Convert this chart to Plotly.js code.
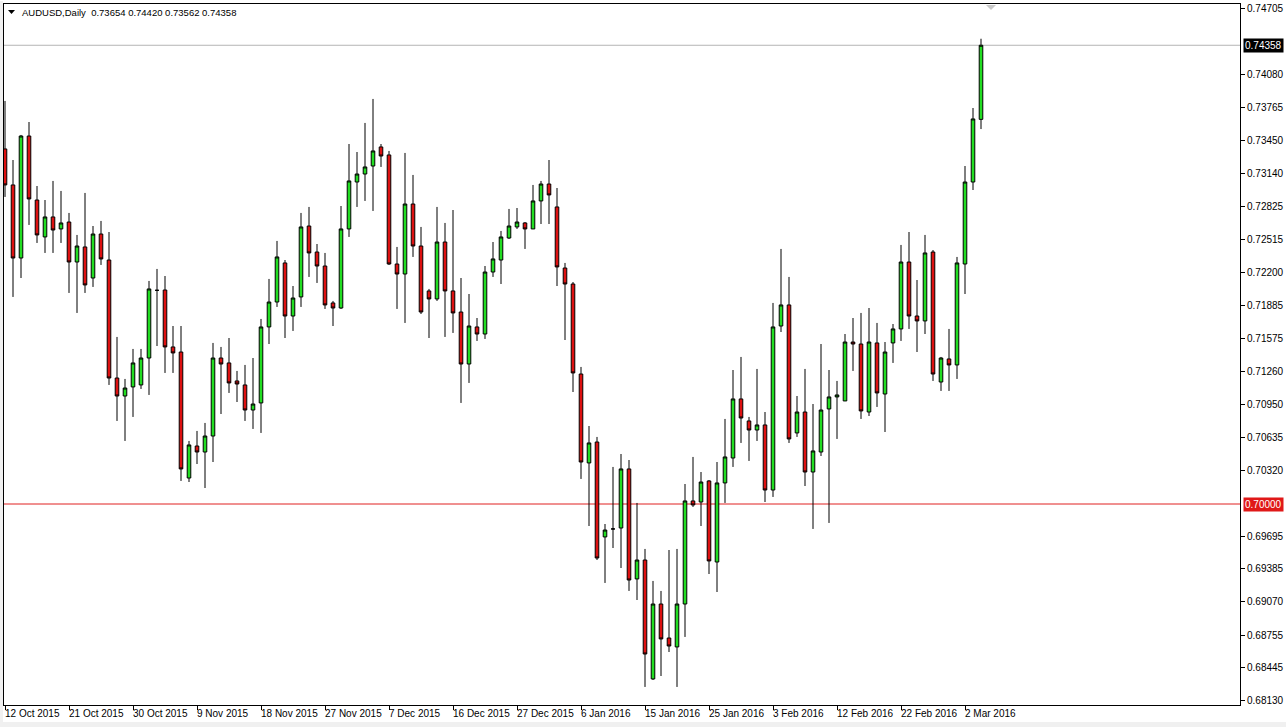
<!DOCTYPE html>
<html>
<head>
<meta charset="utf-8">
<script src="https://cdn.plot.ly/plotly-3.0.1.min.js"></script>
<style>
html,body{margin:0;padding:0;background:#ffffff;}
#chart{width:1286px;height:727px;}
</style>
</head>
<body>
<div id="chart"></div>
<script>
// AUDUSD Daily, bars from 12 Oct 2015 (index 0) to 4 Mar 2016 (index 122)
var opens = [0.73373,0.73031,0.72337,0.73496,0.72888,0.72537,0.72727,0.72613,0.72679,0.72299,
0.72442,0.72147,0.72565,0.72318,0.71197,0.71026,0.71112,0.71131,0.71387,0.72030,
0.72033,0.71492,0.71444,0.70247,0.70551,0.70494,0.70646,0.71387,0.71340,0.71169,
0.71131,0.70893,0.70960,0.71682,0.71919,0.72290,0.71786,0.71967,0.72641,0.72394,
0.72261,0.71910,0.71862,0.72613,0.73059,0.73135,0.73211,0.73392,0.73316,0.72280,
0.72185,0.72850,0.72451,0.72024,0.71948,0.72489,0.72024,0.71824,0.71330,0.71682,
0.71615,0.72204,0.72318,0.72527,0.72632,0.72670,0.72613,0.72879,0.73040,0.72822,
0.72242,0.72090,0.71235,0.70390,0.70589,0.69687,0.69763,0.69772,0.70333,0.69288,
0.69468,0.68338,0.69050,0.68727,0.68642,0.69050,0.70029,0.70019,0.70219,0.69449,
0.70200,0.70437,0.70998,0.70789,0.70703,0.70751,0.70133,0.71691,0.71891,0.70675,
0.70874,0.70304,0.70494,0.70903,0.71017,0.70979,0.71539,0.71520,0.70874,0.71530,
0.71045,0.71530,0.71663,0.72299,0.71786,0.71739,0.72394,0.71159,0.71378,0.71321,
0.72280,0.73059,0.73654];
var highs = [0.73829,0.73268,0.73506,0.73629,0.73021,0.72888,0.73069,0.72974,0.72765,0.72556,
0.72955,0.72641,0.72689,0.72584,0.71587,0.71188,0.71473,0.71473,0.72119,0.72233,
0.72166,0.71691,0.71691,0.70599,0.70694,0.70770,0.71530,0.71492,0.71577,0.71264,
0.71321,0.71387,0.71758,0.72138,0.72499,0.72318,0.72071,0.72765,0.72822,0.72470,
0.72385,0.71929,0.72831,0.73420,0.73344,0.73620,0.73848,0.73420,0.73354,0.72442,
0.73335,0.73126,0.72632,0.72043,0.72822,0.72670,0.72793,0.72147,0.71995,0.71767,
0.72261,0.72489,0.72594,0.72803,0.72812,0.72679,0.73031,0.73069,0.73268,0.73002,
0.72290,0.72109,0.71302,0.70741,0.70637,0.69810,0.70352,0.70475,0.70418,0.70010,
0.69573,0.69269,0.69174,0.69563,0.69573,0.70190,0.70447,0.70304,0.70228,0.70399,
0.70808,0.71273,0.71397,0.70827,0.71283,0.70874,0.71910,0.72423,0.72157,0.71026,
0.71283,0.70950,0.71520,0.71273,0.71169,0.71615,0.71767,0.71815,0.71862,0.71720,
0.71539,0.71710,0.72461,0.72584,0.72128,0.72556,0.72413,0.71397,0.71663,0.72347,
0.73211,0.73762,0.74420];
var lows = [0.72917,0.71967,0.72147,0.72651,0.72480,0.72385,0.72385,0.72480,0.72005,0.71815,
0.72005,0.72062,0.72271,0.71131,0.70789,0.70599,0.70827,0.71093,0.71036,0.71501,
0.71245,0.71245,0.70219,0.70209,0.70380,0.70152,0.70399,0.70855,0.71055,0.70969,
0.70789,0.70713,0.70675,0.71520,0.71872,0.71577,0.71644,0.71872,0.72157,0.72100,
0.71853,0.71691,0.71853,0.72537,0.72822,0.72879,0.72784,0.73202,0.72271,0.71853,
0.71720,0.72347,0.71805,0.71577,0.71929,0.71587,0.71625,0.70960,0.71150,0.71549,
0.71568,0.72157,0.72090,0.72518,0.72613,0.72423,0.72613,0.72660,0.72660,0.72071,
0.71558,0.71064,0.70238,0.69791,0.69468,0.69250,0.69582,0.69392,0.69174,0.69088,
0.68262,0.68328,0.68366,0.68594,0.68262,0.68737,0.69972,0.69791,0.69335,0.69164,
0.70010,0.70352,0.70580,0.70409,0.70599,0.70019,0.70067,0.71634,0.70580,0.70637,
0.70171,0.69763,0.70456,0.69820,0.70618,0.70979,0.71264,0.70808,0.70836,0.70922,
0.70684,0.71340,0.71549,0.71663,0.71444,0.71615,0.71169,0.71074,0.71074,0.71188,
0.71995,0.72983,0.73562];
var closes = [0.73031,0.72337,0.73496,0.72898,0.72556,0.72727,0.72603,0.72670,0.72299,0.72451,
0.72081,0.72565,0.72328,0.71197,0.71026,0.71102,0.71340,0.71387,0.72043,0.72030,
0.71492,0.71435,0.70333,0.70561,0.70494,0.70646,0.71387,0.71330,0.71150,0.71140,
0.70893,0.70950,0.71682,0.71919,0.72347,0.71786,0.71957,0.72632,0.72385,0.72261,
0.71891,0.71862,0.72613,0.73069,0.73135,0.73202,0.73354,0.73306,0.72280,0.72185,
0.72850,0.72451,0.71824,0.71948,0.72489,0.72024,0.71815,0.71330,0.71691,0.71615,
0.72204,0.72328,0.72537,0.72641,0.72679,0.72613,0.72879,0.73040,0.72936,0.72252,
0.72090,0.71245,0.70399,0.70580,0.69487,0.69753,0.69763,0.70333,0.69278,0.69468,
0.68575,0.69050,0.68718,0.68651,0.69050,0.70029,0.69991,0.70209,0.69459,0.70200,
0.70447,0.70998,0.70817,0.70703,0.70751,0.70133,0.71682,0.71891,0.70618,0.70874,
0.70304,0.70504,0.70893,0.71017,0.71036,0.71539,0.71520,0.70884,0.71539,0.71055,
0.71444,0.71663,0.72299,0.71786,0.71739,0.72385,0.71235,0.71387,0.71321,0.72290,
0.73059,0.73658,0.74358];

var dateTickIdx = [0,8,16,24,32,40,48,56,64,72,80,88,96,104,112,120];
var dateTickText = ["12 Oct 2015","21 Oct 2015","30 Oct 2015","9 Nov 2015","18 Nov 2015","27 Nov 2015","7 Dec 2015","16 Dec 2015","27 Dec 2015","6 Jan 2016","15 Jan 2016","25 Jan 2016","3 Feb 2016","12 Feb 2016","22 Feb 2016","2 Mar 2016"];
var priceTicks = [0.74705,0.74080,0.73765,0.73450,0.73140,0.72825,0.72515,0.72200,0.71885,0.71575,0.71260,0.70950,0.70635,0.70320,0.69695,0.69385,0.69070,0.68755,0.68445,0.68130];
var priceTickText = ["0.74705","0.74080","0.73765","0.73450","0.73140","0.72825","0.72515","0.72200","0.71885","0.71575","0.71260","0.70950","0.70635","0.70320","0.69695","0.69385","0.69070","0.68755","0.68445","0.68130"];
var symbolTitle = "AUDUSD,Daily";
var lastBar = ["0.73654","0.74420","0.73562","0.74358"];
var currentPrice = 0.74358;
var levelPrice = 0.70000;

var xs = opens.map(function(_, i){ return i; });

var trace = {
  type: 'candlestick',
  x: xs, open: opens, high: highs, low: lows, close: closes,
  increasing: {line: {color: '#000000', width: 1}, fillcolor: '#22dd22'},
  decreasing: {line: {color: '#000000', width: 1}, fillcolor: '#dd1111'},
  whiskerwidth: 0,
  hoverinfo: 'skip',
  showlegend: false
};

var FONT = 'Liberation Sans, Arial, sans-serif';

var annotations = [
  {xref: 'paper', yref: 'paper', x: (20-4)/1236, y: (705-12)/701, xanchor: 'left', yanchor: 'middle',
   text: symbolTitle + '  ' + lastBar.join(' '), showarrow: false,
   font: {family: FONT, size: 9.5, color: '#000000'}},
  {xref: 'paper', yref: 'y', x: 1, y: currentPrice, xanchor: 'left', yanchor: 'middle', xshift: 3,
   text: currentPrice.toFixed(5), showarrow: false, bgcolor: '#000000', borderpad: 1,
   font: {family: FONT, size: 10, color: '#ffffff'}},
  {xref: 'paper', yref: 'y', x: 1, y: levelPrice, xanchor: 'left', yanchor: 'middle', xshift: 3,
   text: levelPrice.toFixed(5), showarrow: false, bgcolor: '#e01818', borderpad: 1,
   font: {family: FONT, size: 10, color: '#ffffff'}}
];
dateTickIdx.forEach(function(idx, k){
  annotations.push({xref: 'x', yref: 'paper', x: idx, y: 0, xanchor: 'left', yanchor: 'top',
    xshift: -2, yshift: -1, text: dateTickText[k], showarrow: false,
    font: {family: FONT, size: 10, color: '#000000'}});
});

var layout = {
  width: 1286, height: 727,
  margin: {l: 4, r: 46, t: 4, b: 22, pad: 0},
  paper_bgcolor: '#ffffff', plot_bgcolor: '#ffffff',
  showlegend: false,
  boxgap: 0.36,
  font: {family: FONT, size: 10, color: '#000000'},
  xaxis: {
    type: 'linear',
    range: [-0.125, 154.375],
    rangeslider: {visible: false},
    showgrid: false, zeroline: false,
    showline: true, linecolor: '#000000', linewidth: 1, mirror: true,
    tickmode: 'array', tickvals: dateTickIdx, ticktext: dateTickText,
    ticks: 'outside', ticklen: 4, tickcolor: '#000000', tickwidth: 1,
    showticklabels: false,
    fixedrange: true
  },
  yaxis: {
    side: 'right',
    range: [0.680905, 0.7475],
    showgrid: false, zeroline: false,
    showline: true, linecolor: '#000000', linewidth: 1, mirror: true,
    tickmode: 'array', tickvals: priceTicks, ticktext: priceTickText,
    ticks: 'outside', ticklen: 4, tickcolor: '#000000', tickwidth: 1,
    tickfont: {family: FONT, size: 10, color: '#000000'},
    fixedrange: true
  },
  shapes: [
    {type: 'line', xref: 'paper', x0: 0, x1: 1, yref: 'y', y0: currentPrice, y1: currentPrice,
     line: {color: '#b4b4b4', width: 1}, layer: 'below'},
    {type: 'line', xref: 'paper', x0: 0, x1: 1, yref: 'y', y0: levelPrice, y1: levelPrice,
     line: {color: '#e02020', width: 1}, layer: 'below'},
    {type: 'path', xref: 'paper', yref: 'paper',
     path: 'M ' + ((986-4)/1236) + ' ' + ((705-5)/701) + ' L ' + ((996-4)/1236) + ' ' + ((705-5)/701) + ' L ' + ((991-4)/1236) + ' ' + ((705-10)/701) + ' Z',
     fillcolor: '#c8c8c8', line: {width: 0}},
    {type: 'path', xref: 'paper', yref: 'paper',
     path: 'M ' + ((8-4)/1236) + ' ' + ((705-10)/701) + ' L ' + ((15-4)/1236) + ' ' + ((705-10)/701) + ' L ' + ((11.5-4)/1236) + ' ' + ((705-14)/701) + ' Z',
     fillcolor: '#000000', line: {width: 0}},
    {type: 'rect', xref: 'paper', yref: 'paper', x0: -4/1236, x1: -1/1236, y0: -22/701, y1: 704/701,
     fillcolor: '#f0f0f0', line: {width: 0}},
    {type: 'rect', xref: 'paper', yref: 'paper', x0: -4/1236, x1: 1282/1236, y0: -22/701, y1: -17/701,
     fillcolor: '#f0f0f0', line: {width: 0}}
  ],
  annotations: annotations
};

Plotly.newPlot('chart', [trace], layout, {displayModeBar: false, staticPlot: true});
</script>
</body>
</html>
